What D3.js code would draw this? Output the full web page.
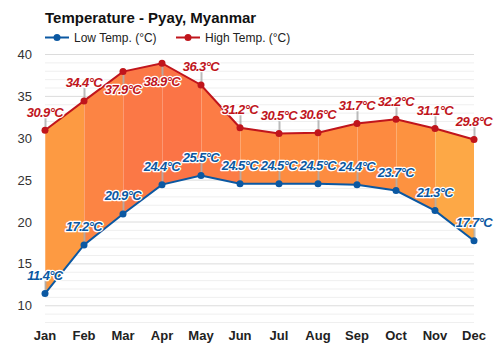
<!DOCTYPE html>
<html><head><meta charset="utf-8">
<script src="https://cdn.jsdelivr.net/npm/d3@7"></script>
<style>
body{margin:0;background:#fff;}
svg{display:block;font-family:"Liberation Sans",Arial,sans-serif;}
</style></head>
<body><svg id="c" width="500" height="350"></svg>
<script>
const months = ["Jan","Feb","Mar","Apr","May","Jun","Jul","Aug","Sep","Oct","Nov","Dec"];
const lowTemp = [11.4,17.2,20.9,24.4,25.5,24.5,24.5,24.5,24.4,23.7,21.3,17.7];
const highTemp = [30.9,34.4,37.9,38.9,36.3,31.2,30.5,30.6,31.7,32.2,31.1,29.8];
const yTicks = [10,15,20,25,30,35,40];
const segColors = ["#fd9a42","#fc8444","#fb7846","#fb7446","#fc7c45","#fd8a42","#fd8c40","#fd8c40","#fd8a40","#fd9240","#fda846"];

const svg = d3.select("#c");
const x = d3.scalePoint().domain(months).range([45,474]);
const y = d3.scaleLinear().domain([8,40]).range([322,54]);

// grid
const minor = d3.range(8,41);
svg.append("g").selectAll("line").data(minor).join("line")
  .attr("x1",45).attr("x2",474)
  .attr("y1",d=>y(d)+0.5).attr("y2",d=>y(d)+0.5)
  .attr("stroke",d=>d%5===0?"#dcdcdc":"#efefef").attr("stroke-width",1);

// y axis labels
svg.append("g").selectAll("text").data(yTicks).join("text")
  .attr("x",32).attr("y",d=>y(d)+5).attr("text-anchor","end")
  .attr("font-size",13).attr("fill","#333").text(d=>d);

// x axis labels
svg.append("g").selectAll("text").data(months).join("text")
  .attr("x",d=>x(d)).attr("y",340).attr("text-anchor","middle")
  .attr("font-size",13).attr("font-weight","bold").attr("fill","#222").text(d=>d);

// gradient for fill
const defs = svg.append("defs");
const grad = defs.append("linearGradient").attr("id","fillg")
  .attr("gradientUnits","userSpaceOnUse").attr("x1",45).attr("x2",474).attr("y1",0).attr("y2",0);
segColors.forEach((c,i)=>{
  const o0 = (x(months[i])-45)/429, o1 = (x(months[i+1])-45)/429;
  grad.append("stop").attr("offset",o0).attr("stop-color",c);
  grad.append("stop").attr("offset",o1).attr("stop-color",c);
});

const data = months.map((m,i)=>({m,lo:lowTemp[i],hi:highTemp[i]}));
const area = d3.area().x(d=>x(d.m)).y0(d=>y(d.lo)).y1(d=>y(d.hi));
svg.append("path").datum(data).attr("d",area).attr("fill","url(#fillg)");

// faint month lines in fill
svg.append("g").selectAll("line").data(data).join("line")
  .attr("x1",d=>x(d.m)+0.5).attr("x2",d=>x(d.m)+0.5)
  .attr("y1",d=>y(d.hi)).attr("y2",d=>y(d.lo))
  .attr("stroke","#ffffff").attr("stroke-opacity",0.25);

// label placement
const hiPos = data.map(d=>({d, v:d.hi, below: d.hi>37}));
const loPos = data.map(d=>({d, v:d.lo, below:false}));
function labelY(p){ return p.below ? y(p.v)+18 : y(p.v)-18; }

// connectors
const conn = svg.append("g");
hiPos.concat(loPos).forEach(p=>{
  const py=y(p.v), ly=labelY(p);
  conn.append("line").attr("x1",x(p.d.m)+0.5).attr("x2",x(p.d.m)+0.5)
    .attr("y1",py).attr("y2",p.below?ly-6:ly+5)
    .attr("stroke","#aaaaaa").attr("stroke-width",2).attr("stroke-opacity",0.8);
});

// lines
const hiColor="#c0151c", loColor="#0b58a2";
const lineHi = d3.line().x(d=>x(d.m)).y(d=>y(d.hi));
const lineLo = d3.line().x(d=>x(d.m)).y(d=>y(d.lo));
svg.append("path").datum(data).attr("d",lineHi).attr("fill","none").attr("stroke",hiColor).attr("stroke-width",2);
svg.append("path").datum(data).attr("d",lineLo).attr("fill","none").attr("stroke",loColor).attr("stroke-width",2);
svg.append("g").selectAll("circle").data(data).join("circle")
  .attr("cx",d=>x(d.m)).attr("cy",d=>y(d.hi)).attr("r",3.5).attr("fill",hiColor);
svg.append("g").selectAll("circle").data(data).join("circle")
  .attr("cx",d=>x(d.m)).attr("cy",d=>y(d.lo)).attr("r",3.5).attr("fill",loColor);

// labels
function labels(arr,color){
  svg.append("g").selectAll("text").data(arr).join("text")
    .attr("x",p=>x(p.d.m)).attr("y",p=>labelY(p)+4.5).attr("text-anchor","middle")
    .attr("font-size",13).attr("font-weight","bold").attr("font-style","italic")
    .attr("letter-spacing","-0.6")
    .attr("fill",color).attr("stroke","#fff").attr("stroke-width",2.5)
    .attr("stroke-linejoin","round").attr("paint-order","stroke")
    .text(p=>p.v.toFixed(1)+"°C");
}
labels(hiPos,hiColor);
labels(loPos,loColor);

// title
svg.append("text").attr("x",45).attr("y",23).attr("font-size",15).attr("font-weight","bold")
  .attr("fill","#111").text("Temperature - Pyay, Myanmar");

// legend
const leg = [{t:"Low Temp. (°C)",c:loColor,x:45},{t:"High Temp. (°C)",c:hiColor,x:176}];
const lg = svg.append("g").selectAll("g").data(leg).join("g");
lg.append("line").attr("x1",d=>d.x).attr("x2",d=>d.x+24).attr("y1",37.5).attr("y2",37.5)
  .attr("stroke",d=>d.c).attr("stroke-width",2);
lg.append("circle").attr("cx",d=>d.x+12).attr("cy",37.5).attr("r",3.5).attr("fill",d=>d.c);
lg.append("text").attr("x",d=>d.x+29).attr("y",42).attr("font-size",12).attr("fill","#222").text(d=>d.t);
</script></body></html>
